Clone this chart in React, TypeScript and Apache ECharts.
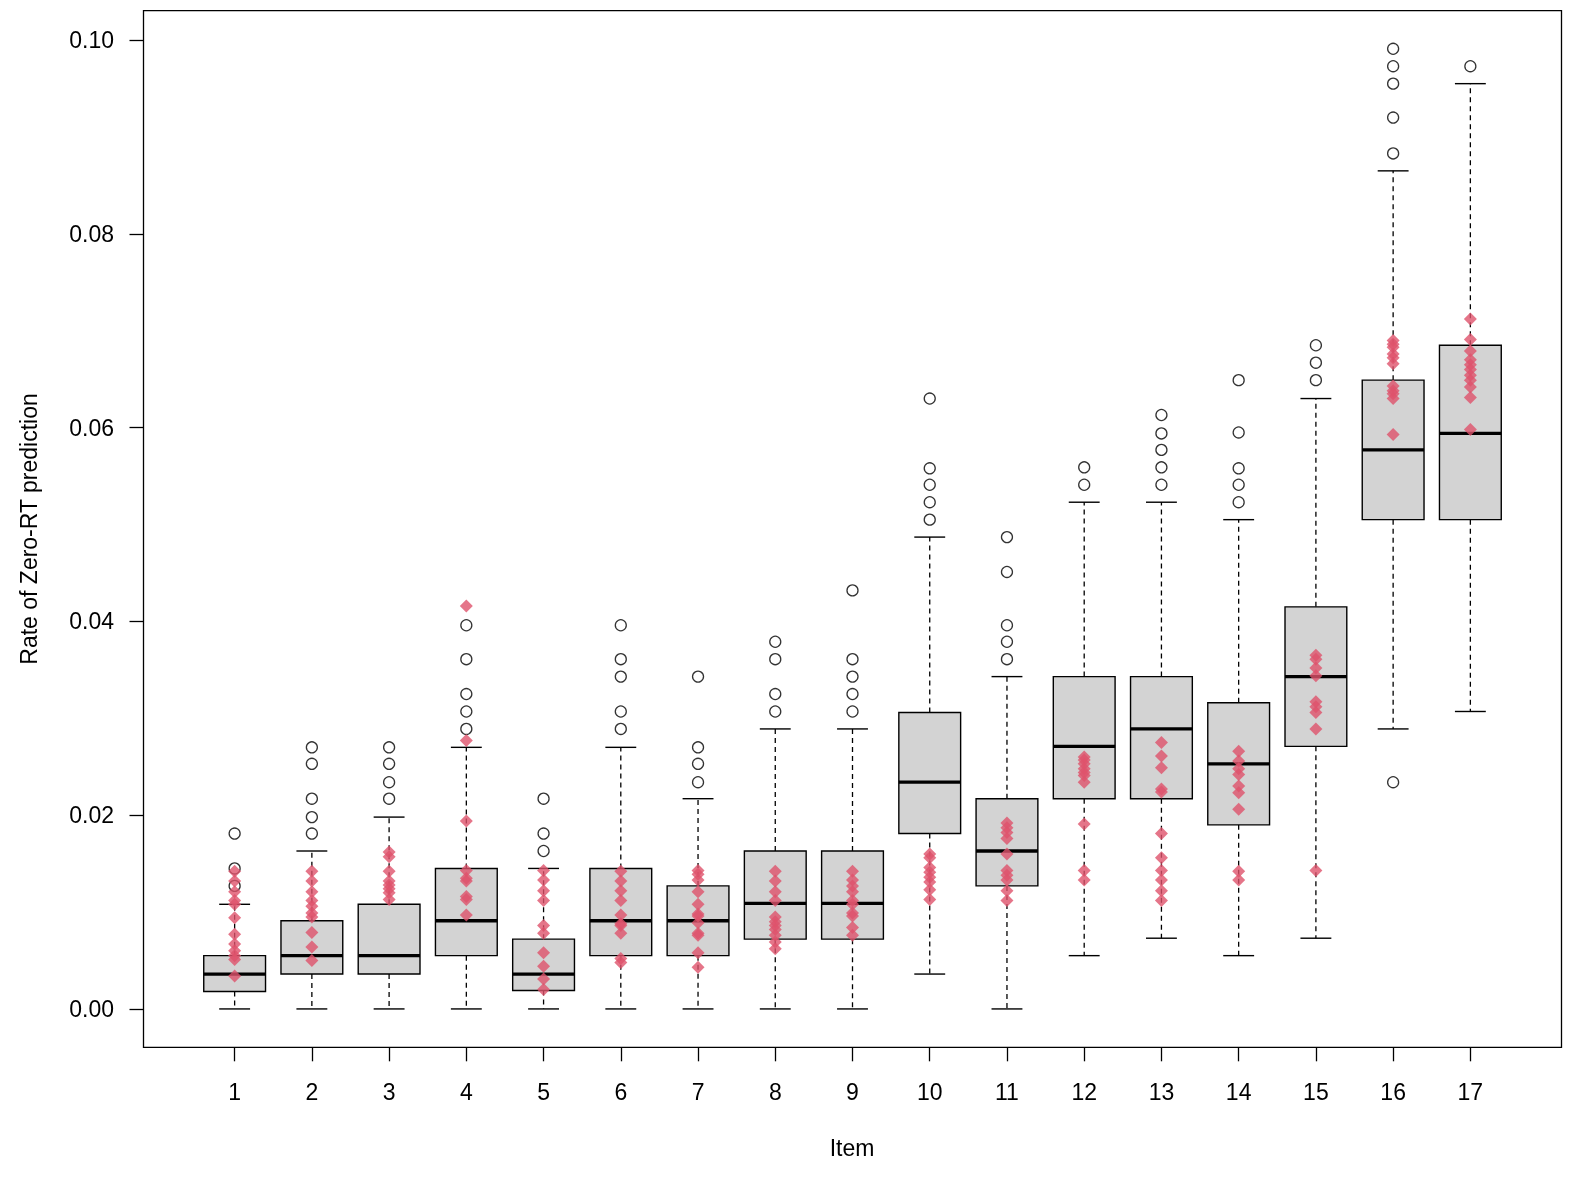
import React, { useEffect, useRef } from "react";
import * as echarts from "echarts";

const items = ["1", "2", "3", "4", "5", "6", "7", "8", "9", "10", "11", "12", "13", "14", "15", "16", "17"];

const whiskerLow = [0, 0, 0, 0, 0, 0, 0, 0, 0, 0.0036, 0, 0.0055, 0.0073, 0.0055, 0.0073, 0.0289, 0.0307];
const quartile1 = [0.0018, 0.0036, 0.0036, 0.0055, 0.0019, 0.0055, 0.0055, 0.0072, 0.0072, 0.0181, 0.0127, 0.0217, 0.0217, 0.0190, 0.0271, 0.0505, 0.0505];
const medians = [0.0036, 0.0055, 0.0055, 0.0091, 0.0036, 0.0091, 0.0091, 0.0109, 0.0109, 0.0234, 0.0163, 0.0271, 0.0289, 0.0253, 0.0343, 0.0577, 0.0594];
const quartile3 = [0.0055, 0.0091, 0.0108, 0.0145, 0.0072, 0.0145, 0.0127, 0.0163, 0.0163, 0.0306, 0.0217, 0.0343, 0.0343, 0.0316, 0.0415, 0.0649, 0.0685];
const whiskerHigh = [0.0108, 0.0163, 0.0198, 0.0270, 0.0145, 0.0270, 0.0217, 0.0289, 0.0289, 0.0487, 0.0343, 0.0523, 0.0523, 0.0505, 0.0630, 0.0865, 0.0955];

const outliers: number[][] = [
  [0.0127, 0.0145, 0.0181],
  [0.0181, 0.0198, 0.0217, 0.0253, 0.0270],
  [0.0217, 0.0234, 0.0253, 0.0270],
  [0.0289, 0.0307, 0.0325, 0.0361, 0.0396],
  [0.0163, 0.0181, 0.0217],
  [0.0289, 0.0307, 0.0343, 0.0361, 0.0396],
  [0.0234, 0.0253, 0.0270, 0.0343],
  [0.0307, 0.0325, 0.0361, 0.0379],
  [0.0307, 0.0325, 0.0343, 0.0361, 0.0432],
  [0.0505, 0.0523, 0.0541, 0.0558, 0.0630],
  [0.0361, 0.0379, 0.0396, 0.0451, 0.0487],
  [0.0541, 0.0559],
  [0.0541, 0.0559, 0.0577, 0.0594, 0.0613],
  [0.0523, 0.0541, 0.0558, 0.0595, 0.0649],
  [0.0649, 0.0667, 0.0685],
  [0.0234, 0.0883, 0.0920, 0.0955, 0.0973, 0.0991],
  [0.0973],
];

const observed: number[][] = [
  [0.0142, 0.0132, 0.0121, 0.0112, 0.0108, 0.0094, 0.0077, 0.0067, 0.0060, 0.0055, 0.0051, 0.0034],
  [0.0142, 0.0132, 0.0121, 0.0112, 0.0106, 0.0099, 0.0095, 0.0079, 0.0064, 0.0050],
  [0.0162, 0.0157, 0.0142, 0.0132, 0.0128, 0.0124, 0.0120, 0.0113],
  [0.0416, 0.0277, 0.0194, 0.0143, 0.0135, 0.0132, 0.0116, 0.0113, 0.0097],
  [0.0143, 0.0133, 0.0122, 0.0112, 0.0086, 0.0078, 0.0058, 0.0044, 0.0031, 0.0020],
  [0.0142, 0.0132, 0.0122, 0.0112, 0.0097, 0.0088, 0.0086, 0.0078, 0.0052, 0.0048],
  [0.0143, 0.0139, 0.0133, 0.0121, 0.0108, 0.0098, 0.0096, 0.0089, 0.0078, 0.0076, 0.0058, 0.0043],
  [0.0142, 0.0132, 0.0121, 0.0112, 0.0095, 0.0090, 0.0086, 0.0082, 0.0076, 0.0069, 0.0062],
  [0.0142, 0.0133, 0.0127, 0.0121, 0.0112, 0.0108, 0.0099, 0.0096, 0.0084, 0.0076],
  [0.0160, 0.0156, 0.0146, 0.0141, 0.0136, 0.0131, 0.0123, 0.0113],
  [0.0192, 0.0187, 0.0182, 0.0176, 0.0160, 0.0143, 0.0138, 0.0133, 0.0122, 0.0112],
  [0.0260, 0.0257, 0.0253, 0.0248, 0.0244, 0.0241, 0.0234, 0.0191, 0.0143, 0.0133],
  [0.0275, 0.0261, 0.0249, 0.0227, 0.0224, 0.0181, 0.0156, 0.0143, 0.0133, 0.0122, 0.0112],
  [0.0266, 0.0256, 0.0248, 0.0242, 0.0230, 0.0223, 0.0206, 0.0142, 0.0133],
  [0.0365, 0.0361, 0.0352, 0.0344, 0.0317, 0.0312, 0.0306, 0.0289, 0.0143],
  [0.0690, 0.0686, 0.0683, 0.0676, 0.0672, 0.0666, 0.0643, 0.0638, 0.0635, 0.0630, 0.0593],
  [0.0712, 0.0691, 0.0679, 0.0670, 0.0665, 0.0660, 0.0654, 0.0649, 0.0642, 0.0631, 0.0598],
];

const yTicks = [0, 0.02, 0.04, 0.06, 0.08, 0.1];
const xTitle = "Item";
const yTitle = "Rate of Zero-RT prediction";

const FONT = "'Liberation Sans', Arial, Helvetica, sans-serif";

export default function App() {
  const ref = useRef<HTMLDivElement>(null);
  useEffect(() => {
    const chart = echarts.init(ref.current as HTMLDivElement, null, { renderer: "svg" });
    const xPos = items.map((_, i) => i + 1);
    const boxData = xPos.map((x, i) => [x, whiskerLow[i], quartile1[i], medians[i], quartile3[i], whiskerHigh[i]]);
    const outlierData = outliers.flatMap((vals, i) => vals.map((v) => [i + 1, v]));
    const observedData = observed.flatMap((vals, i) => vals.map((v) => [i + 1, v]));

    chart.setOption({
      animation: false,
      grid: {
        left: 143.5,
        right: 28.5,
        top: 10.7,
        bottom: 129.7,
        show: true,
        borderColor: "#000",
        borderWidth: 1.3,
        backgroundColor: "transparent",
      },
      xAxis: {
        type: "value",
        min: -0.18,
        max: 18.18,
        axisLine: { show: false, onZero: false },
        axisTick: { show: true, customValues: xPos, length: 14, lineStyle: { color: "#000", width: 1.3 } },
        axisLabel: {
          customValues: xPos,
          formatter: (v: number) => items[Math.round(v) - 1] ?? "",
          color: "#000",
          fontSize: 23,
          fontFamily: FONT,
          margin: 33,
        },
        splitLine: { show: false },
      },
      yAxis: {
        type: "value",
        min: -0.00396,
        max: 0.10303,
        axisLine: { show: false, onZero: false },
        axisTick: { show: true, customValues: yTicks, length: 14, lineStyle: { color: "#000", width: 1.3 } },
        axisLabel: {
          customValues: yTicks,
          formatter: (v: number) => v.toFixed(2),
          color: "#000",
          fontSize: 23,
          fontFamily: FONT,
          margin: 29.5,
        },
        splitLine: { show: false },
      },
      series: [
        {
          type: "custom",
          data: boxData,
          encode: { x: 0, y: [1, 2, 3, 4, 5] },
          renderItem: (params: any, api: any) => {
            const x = api.value(0);
            const pLow = api.coord([x, api.value(1)]);
            const pQ1 = api.coord([x, api.value(2)]);
            const pMed = api.coord([x, api.value(3)]);
            const pQ3 = api.coord([x, api.value(4)]);
            const pHigh = api.coord([x, api.value(5)]);
            const bw = api.size([0.8, 0])[0];
            const cx = pMed[0];
            const half = bw / 2;
            const cap = bw / 4;
            const solid = { stroke: "#000", lineWidth: 1.4 };
            const dashed = { stroke: "#000", lineWidth: 1.3, lineDash: [5, 4] };
            return {
              type: "group",
              children: [
                { type: "line", shape: { x1: cx, y1: pQ3[1], x2: cx, y2: pHigh[1] }, style: dashed },
                { type: "line", shape: { x1: cx, y1: pQ1[1], x2: cx, y2: pLow[1] }, style: dashed },
                { type: "line", shape: { x1: cx - cap, y1: pHigh[1], x2: cx + cap, y2: pHigh[1] }, style: solid },
                { type: "line", shape: { x1: cx - cap, y1: pLow[1], x2: cx + cap, y2: pLow[1] }, style: solid },
                {
                  type: "rect",
                  shape: { x: cx - half, y: pQ3[1], width: bw, height: pQ1[1] - pQ3[1] },
                  style: { fill: "#D3D3D3", stroke: "#000", lineWidth: 1.4 },
                },
                {
                  type: "line",
                  shape: { x1: cx - half, y1: pMed[1], x2: cx + half, y2: pMed[1] },
                  style: { stroke: "#000", lineWidth: 3.3 },
                },
              ],
            };
          },
          z: 2,
        },
        {
          type: "scatter",
          data: outlierData,
          symbol: "circle",
          symbolSize: 11,
          itemStyle: { color: "rgba(0,0,0,0)", borderColor: "#000", borderWidth: 1.3 },
          z: 3,
        },
        {
          type: "scatter",
          data: observedData,
          symbol: "diamond",
          symbolSize: [13, 13],
          itemStyle: { color: "#DF536B" },
          z: 4,
        },
      ],
      graphic: [
        {
          type: "text",
          x: 852,
          y: 1148,
          style: {
            text: xTitle,
            fontSize: 23,
            fontFamily: FONT,
            fill: "#000",
            align: "center",
            verticalAlign: "middle",
            textAlign: "center",
            textVerticalAlign: "middle",
          },
        },
        {
          type: "text",
          x: 29,
          y: 529,
          rotation: Math.PI / 2,
          style: {
            text: yTitle,
            fontSize: 23,
            fontFamily: FONT,
            fill: "#000",
            align: "center",
            verticalAlign: "middle",
            textAlign: "center",
            textVerticalAlign: "middle",
          },
        },
      ],
    });
    return () => chart.dispose();
  }, []);
  return <div ref={ref} style={{ position: "fixed", left: 0, top: 0, width: 1590, height: 1177 }} />;
}
